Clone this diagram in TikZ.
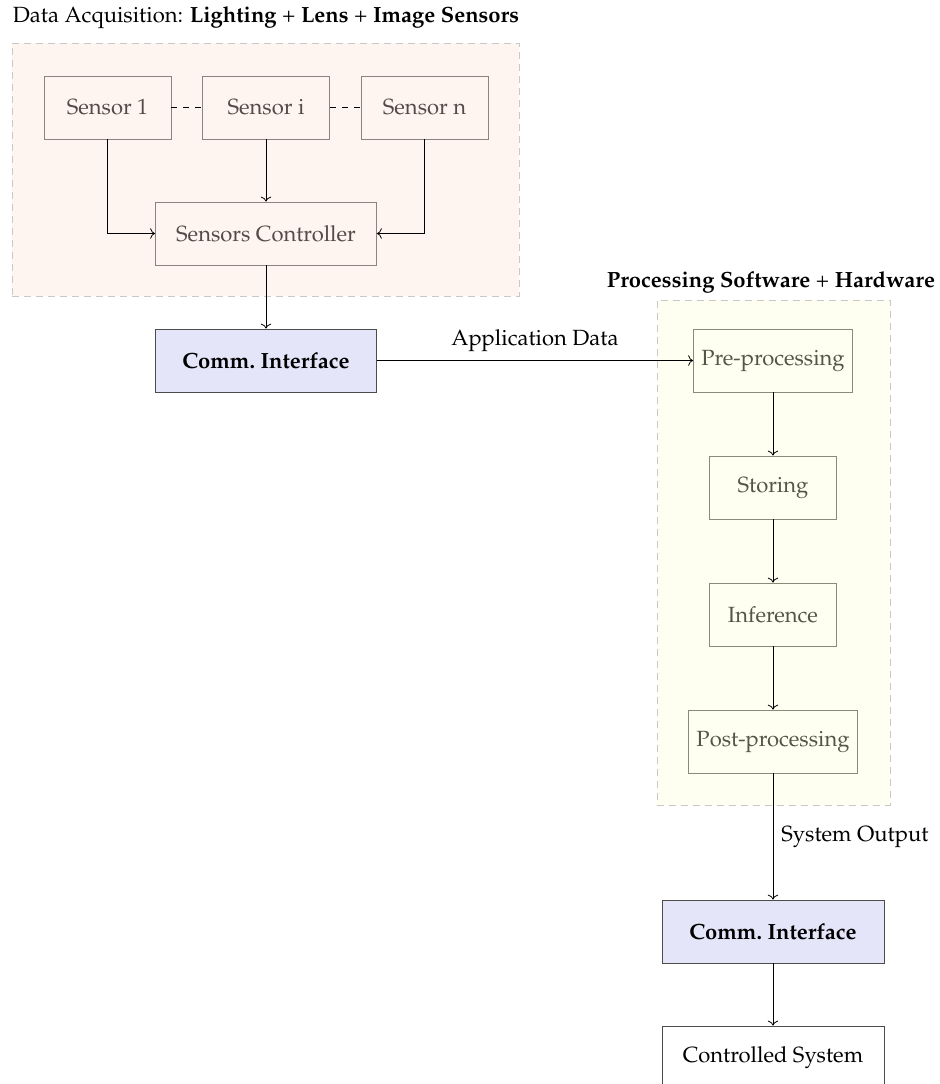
\documentclass[tikz,border=0pt]{standalone}
\usepackage[T1]{fontenc}
\usepackage{mathpazo}
\usetikzlibrary{arrows.meta}

\definecolor{acqfill}{HTML}{FEF5F0}
\definecolor{procfill}{HTML}{FEFFF0}
\definecolor{commfill}{HTML}{E5E5FA}
\definecolor{acqtext}{HTML}{544A47}
\definecolor{acqline}{HTML}{8C8280}
\definecolor{proctext}{HTML}{545447}
\definecolor{procline}{HTML}{8A8A78}
\definecolor{groupline}{HTML}{C8C8C8}

\tikzset{
  group/.style={draw=groupline, dash pattern=on 3.5pt off 2.5pt, fill=#1, inner sep=0pt},
  block/.style={draw, rectangle, minimum height=31.5pt, inner sep=0pt,
                font=\fontsize{11}{13}\selectfont},
  acqblock/.style={block, draw=acqline, text=acqtext},
  procblock/.style={block, draw=procline, text=proctext},
  commblock/.style={block, draw=black!70, fill=commfill,
                    font=\fontsize{11}{13}\selectfont\bfseries},
  plainblock/.style={block, draw=black!70},
  flow/.style={->, black},
  caption/.style={font=\fontsize{11}{13}\selectfont, inner sep=0pt}
}

\begin{document}
\begin{tikzpicture}[x=0.5pt, y=-0.5pt]
  \useasboundingbox (0,0) rectangle (940,1084);

  % group backgrounds
  \node[group=acqfill, minimum width=253.5pt, minimum height=126.5pt]
    (acq) at (265.5,169.5) {};
  \node[group=procfill, minimum width=116.5pt, minimum height=252.5pt]
    (proc) at (773.5,552.5) {};

  % group titles
  \node[caption] (acqtitle) at (266,18)
    {Data Acquisition: \textbf{Lighting} + \textbf{Lens} + \textbf{Image Sensors}};
  \node[caption] (proctitle) at (771,282)
    {\textbf{Processing Software} + \textbf{Hardware}};

  % acquisition blocks
  \node[acqblock, minimum width=63.5pt] (s1) at (107.5,107.5) {Sensor 1};
  \node[acqblock, minimum width=63.5pt] (si) at (266,107.5) {Sensor i};
  \node[acqblock, minimum width=63.5pt] (sn) at (424.5,107.5) {Sensor n};
  \node[acqblock, minimum width=110.5pt] (ctrl) at (266,233.5) {Sensors Controller};

  \node[commblock, minimum width=110.5pt] (comm1) at (266,360.5) {Comm.\ Interface};

  % processing blocks
  \node[procblock, minimum width=79.5pt] (pre) at (773,360.5) {Pre-processing};
  \node[procblock, minimum width=63.5pt] (store) at (773,487.5) {Storing};
  \node[procblock, minimum width=63.5pt] (infer) at (773,614.5) {Inference};
  \node[procblock, minimum width=84.5pt] (post) at (773,741.5) {Post-processing};

  \node[commblock, minimum width=111pt] (comm2) at (773,931.5) {Comm.\ Interface};
  \node[plainblock, minimum width=111pt] (sys) at (773,1057.5) {Controlled System};

  % sensor chain
  \draw[dashed] (s1.east) -- (si.west);
  \draw[dashed] (si.east) -- (sn.west);

  % connectors
  \draw[flow] (s1.south) |- (ctrl.west);
  \draw[flow] (si.south) -- (ctrl.north);
  \draw[flow] (sn.south) |- (ctrl.east);
  \draw[flow] (ctrl.south) -- (comm1.north);
  \draw[flow] (comm1.east) -- node[caption, above=4pt] {Application Data} (pre.west);
  \draw[flow] (pre.south) -- (store.north);
  \draw[flow] (store.south) -- (infer.north);
  \draw[flow] (infer.south) -- (post.north);
  \draw[flow] (post.south) -- node[caption, right=4pt] {System Output} (comm2.north);
  \draw[flow] (comm2.south) -- (sys.north);
\end{tikzpicture}
\end{document}
